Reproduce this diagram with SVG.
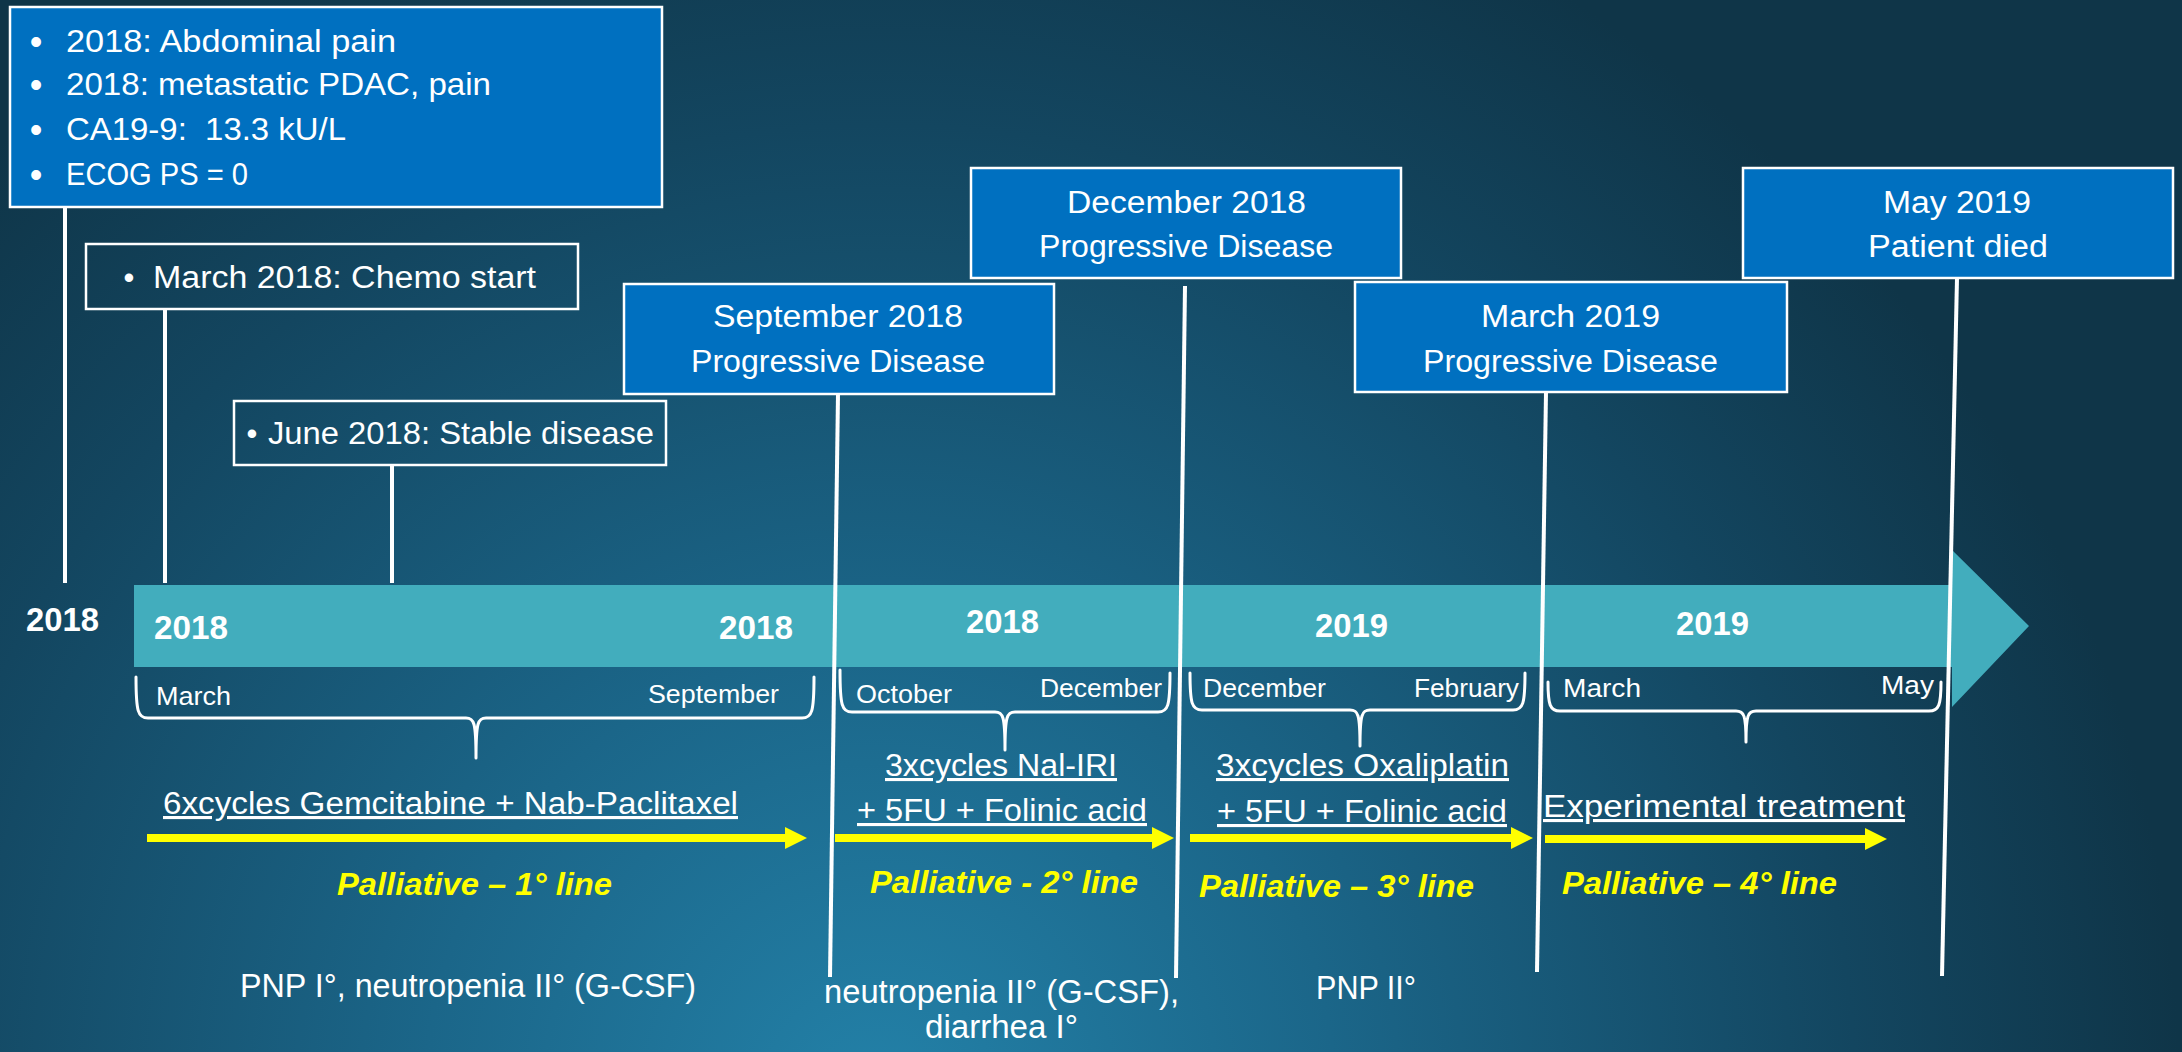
<svg xmlns="http://www.w3.org/2000/svg" width="2182" height="1052" viewBox="0 0 2182 1052">
  <defs>
    <radialGradient id="bg" gradientUnits="userSpaceOnUse" cx="880" cy="1100" r="1300">
      <stop offset="0" stop-color="#2381a8"/>
      <stop offset="0.35" stop-color="#1b6689"/>
      <stop offset="0.75" stop-color="#134660"/>
      <stop offset="1" stop-color="#0f3548"/>
    </radialGradient>
    <marker id="yellowHead" markerUnits="userSpaceOnUse" markerWidth="24" markerHeight="24" refX="1" refY="11" orient="auto">
      <path d="M0,0 L22,11 L0,22 Z" fill="#ffff00"/>
    </marker>
    <style>
      .box{fill:#0070c0;stroke:#ffffff;stroke-width:2.5}
      .obox{fill:none;stroke:#ffffff;stroke-width:2.5}
      .t{font-family:"Liberation Sans",Arial,sans-serif;fill:#ffffff}
      .f30{font-size:31px}
      .f24{font-size:25px}
      .f32{font-size:33px}
      .dot{font-size:36px}
      .yr{font-family:"Liberation Sans",Arial,sans-serif;font-weight:bold;font-size:33px;fill:#ffffff}
      .pal{font-family:"Liberation Sans",Arial,sans-serif;font-weight:bold;font-style:italic;font-size:32px;fill:#ffff00}
      .ul{text-decoration:underline}
      .conn{stroke:#ffffff;stroke-width:4;fill:none}
      .brace{stroke:#ffffff;stroke-width:3;fill:none;stroke-linejoin:round;stroke-linecap:round}
      .arr{stroke:#ffff00;stroke-width:8;marker-end:url(#yellowHead)}
    </style>
  </defs>

  <rect width="2182" height="1052" fill="url(#bg)"/>

  <!-- time axis -->
  <g id="time-axis">
    <path d="M134,585 H1952 V550 L2029,626 L1952,707 V667 H134 Z" fill="#42adbd"/>
    <text class="yr" x="26" y="631" textLength="73" lengthAdjust="spacingAndGlyphs">2018</text>
    <text class="yr" x="154" y="639" textLength="74" lengthAdjust="spacingAndGlyphs">2018</text>
    <text class="yr" x="719" y="639" textLength="74" lengthAdjust="spacingAndGlyphs">2018</text>
    <text class="yr" x="966" y="633" textLength="73" lengthAdjust="spacingAndGlyphs">2018</text>
    <text class="yr" x="1315" y="637" textLength="73" lengthAdjust="spacingAndGlyphs">2019</text>
    <text class="yr" x="1676" y="635" textLength="73" lengthAdjust="spacingAndGlyphs">2019</text>
  </g>

  <!-- month ranges -->
  <g id="ranges">
    <path class="brace" d="M136,677 C136,712 138,718 148,718 L466,718 C474,718 476,722 476,758 C476,722 478,718 486,718 L802,718 C812,718 814,712 814,677"/>
    <path class="brace" d="M840,670 C840,706 842,712 852,712 L995,712 C1003,712 1005,716 1005,750 C1005,716 1007,712 1015,712 L1158,712 C1168,712 1170,706 1170,673"/>
    <path class="brace" d="M1190,673 C1190,704 1192,710 1202,710 L1350,710 C1358,710 1360,714 1360,746 C1360,714 1362,710 1370,710 L1513,710 C1523,710 1525,704 1525,673"/>
    <path class="brace" d="M1548,682 C1548,705 1550,711 1560,711 L1736,711 C1744,711 1746,715 1746,742 C1746,715 1748,711 1756,711 L1929,711 C1939,711 1941,705 1941,682"/>
    <text class="t f24" x="156" y="705" textLength="75" lengthAdjust="spacingAndGlyphs">March</text>
    <text class="t f24" x="648" y="703" textLength="131" lengthAdjust="spacingAndGlyphs">September</text>
    <text class="t f24" x="856" y="703" textLength="96" lengthAdjust="spacingAndGlyphs">October</text>
    <text class="t f24" x="1040" y="697" textLength="122" lengthAdjust="spacingAndGlyphs">December</text>
    <text class="t f24" x="1203" y="697" textLength="123" lengthAdjust="spacingAndGlyphs">December</text>
    <text class="t f24" x="1414" y="697" textLength="105" lengthAdjust="spacingAndGlyphs">February</text>
    <text class="t f24" x="1563" y="697" textLength="78" lengthAdjust="spacingAndGlyphs">March</text>
    <text class="t f24" x="1881" y="694" textLength="53" lengthAdjust="spacingAndGlyphs">May</text>
  </g>

  <!-- event connectors -->
  <g id="connectors">
    <line class="conn" x1="65" y1="207" x2="65" y2="583"/>
    <line class="conn" x1="165" y1="309" x2="165" y2="583"/>
    <line class="conn" x1="392" y1="465" x2="392" y2="583"/>
    <line class="conn" x1="838" y1="394" x2="830" y2="977"/>
    <line class="conn" x1="1185" y1="286" x2="1176" y2="978"/>
    <line class="conn" x1="1546" y1="392" x2="1537" y2="972"/>
    <line class="conn" x1="1957" y1="278" x2="1942" y2="976"/>
  </g>

  <!-- events -->
  <g id="diagnosis">
    <rect class="box" x="10" y="7" width="652" height="200"/>
    <text class="t dot" x="36" y="54" text-anchor="middle">•</text>
    <text class="t f30" x="66" y="52" textLength="330" lengthAdjust="spacingAndGlyphs">2018: Abdominal pain</text>
    <text class="t dot" x="36" y="97" text-anchor="middle">•</text>
    <text class="t f30" x="66" y="95" textLength="425" lengthAdjust="spacingAndGlyphs">2018: metastatic PDAC, pain</text>
    <text class="t dot" x="36" y="142" text-anchor="middle">•</text>
    <text class="t f30" x="66" y="140" xml:space="preserve" textLength="280" lengthAdjust="spacingAndGlyphs">CA19-9:  13.3 kU/L</text>
    <text class="t dot" x="36" y="187" text-anchor="middle">•</text>
    <text class="t f30" x="66" y="185" textLength="182" lengthAdjust="spacingAndGlyphs">ECOG PS = 0</text>
  </g>

  <g id="chemo-start">
    <rect class="obox" x="86" y="244" width="492" height="65"/>
    <text class="t f30" x="129" y="288" text-anchor="middle">•</text>
    <text class="t f30" x="153" y="288" textLength="383" lengthAdjust="spacingAndGlyphs">March 2018: Chemo start</text>
  </g>

  <g id="stable-disease">
    <rect class="obox" x="234" y="401" width="432" height="64"/>
    <text class="t f30" x="252" y="444" text-anchor="middle">•</text>
    <text class="t f30" x="268" y="444" textLength="386" lengthAdjust="spacingAndGlyphs">June 2018: Stable disease</text>
  </g>

  <g id="pd-sep-2018">
    <rect class="box" x="624" y="284" width="430" height="110"/>
    <text class="t f30" x="713" y="327" textLength="250" lengthAdjust="spacingAndGlyphs">September 2018</text>
    <text class="t f30" x="691" y="372" textLength="294" lengthAdjust="spacingAndGlyphs">Progressive Disease</text>
  </g>

  <g id="pd-dec-2018">
    <rect class="box" x="971" y="168" width="430" height="110"/>
    <text class="t f30" x="1067" y="213" textLength="239" lengthAdjust="spacingAndGlyphs">December 2018</text>
    <text class="t f30" x="1039" y="257" textLength="294" lengthAdjust="spacingAndGlyphs">Progressive Disease</text>
  </g>

  <g id="pd-mar-2019">
    <rect class="box" x="1355" y="282" width="432" height="110"/>
    <text class="t f30" x="1481" y="327" textLength="179" lengthAdjust="spacingAndGlyphs">March 2019</text>
    <text class="t f30" x="1423" y="372" textLength="295" lengthAdjust="spacingAndGlyphs">Progressive Disease</text>
  </g>

  <g id="death-may-2019">
    <rect class="box" x="1743" y="168" width="430" height="110"/>
    <text class="t f30" x="1883" y="213" textLength="148" lengthAdjust="spacingAndGlyphs">May 2019</text>
    <text class="t f30" x="1868" y="257" textLength="180" lengthAdjust="spacingAndGlyphs">Patient died</text>
  </g>

  <!-- treatment lines -->
  <g id="line-1">
    <text class="t f30 ul" x="163" y="814" textLength="575" lengthAdjust="spacingAndGlyphs">6xcycles Gemcitabine + Nab-Paclitaxel</text>
    <line class="arr" x1="147" y1="838" x2="786" y2="838"/>
    <text class="pal" x="337" y="895" textLength="275" lengthAdjust="spacingAndGlyphs">Palliative – 1° line</text>
    <text class="t f32" x="240" y="997" textLength="456" lengthAdjust="spacingAndGlyphs">PNP I°, neutropenia II° (G-CSF)</text>
  </g>

  <g id="line-2">
    <text class="t f30 ul" x="885" y="776" textLength="232" lengthAdjust="spacingAndGlyphs">3xcycles Nal-IRI</text>
    <text class="t f30 ul" x="857" y="821" textLength="290" lengthAdjust="spacingAndGlyphs">+ 5FU + Folinic acid</text>
    <line class="arr" x1="835" y1="838" x2="1153" y2="838"/>
    <text class="pal" x="870" y="893" textLength="268" lengthAdjust="spacingAndGlyphs">Palliative - 2° line</text>
    <text class="t f32" x="824" y="1003" textLength="355" lengthAdjust="spacingAndGlyphs">neutropenia II° (G-CSF),</text>
    <text class="t f32" x="925" y="1038" textLength="153" lengthAdjust="spacingAndGlyphs">diarrhea I°</text>
  </g>

  <g id="line-3">
    <text class="t f30 ul" x="1216" y="776" textLength="293" lengthAdjust="spacingAndGlyphs">3xcycles Oxaliplatin</text>
    <text class="t f30 ul" x="1217" y="822" textLength="290" lengthAdjust="spacingAndGlyphs">+ 5FU + Folinic acid</text>
    <line class="arr" x1="1190" y1="838" x2="1512" y2="838"/>
    <text class="pal" x="1199" y="897" textLength="275" lengthAdjust="spacingAndGlyphs">Palliative – 3° line</text>
    <text class="t f32" x="1316" y="999" textLength="100" lengthAdjust="spacingAndGlyphs">PNP II°</text>
  </g>

  <g id="line-4">
    <text class="t f30 ul" x="1543" y="817" textLength="362" lengthAdjust="spacingAndGlyphs">Experimental treatment</text>
    <line class="arr" x1="1545" y1="839" x2="1866" y2="839"/>
    <text class="pal" x="1562" y="894" textLength="275" lengthAdjust="spacingAndGlyphs">Palliative – 4° line</text>
  </g>
</svg>
